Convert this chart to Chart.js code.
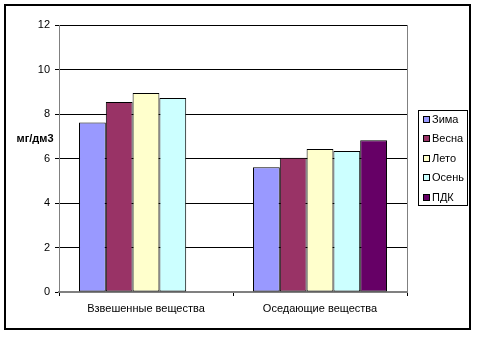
<!DOCTYPE html>
<html>
<head>
<meta charset="utf-8">
<script src="https://cdn.jsdelivr.net/npm/chart.js@4"></script>
<style>
  html, body { margin: 0; padding: 0; background: #fff; }
  #wrap { width: 478px; height: 344px; }
</style>
</head>
<body>
<div id="wrap"><canvas id="chart" width="478" height="344"></canvas></div>
<script>
const categories = ["Взвешенные вещества", "Оседающие вещества"];
const seriesNames = ["Зима", "Весна", "Лето", "Осень", "ПДК"];
const winter = [7.62, 5.61];
const spring = [8.54, 6.03];
const summer = [8.94, 6.43];
const autumn = [8.72, 6.34];
const pdk = [null, 6.82];
const seriesColors = ["#9999FF", "#993366", "#FFFFCC", "#CCFFFF", "#660066"];
const yTitle = "мг/дм3";

const FONT = "Arial, 'Liberation Sans', sans-serif";

// frame, y title, right border of plot and legend
const decor = {
  id: "decor",
  afterDraw(chart) {
    const ctx = chart.ctx;
    const a = chart.chartArea;
    ctx.save();
    // outer frame
    ctx.strokeStyle = "#000";
    ctx.lineWidth = 2;
    ctx.strokeRect(5, 5, 465, 324);
    // plot area right border
    ctx.strokeStyle = "#808080";
    ctx.lineWidth = 1;
    ctx.beginPath();
    ctx.moveTo(Math.round(a.right) + 0.5, a.top);
    ctx.lineTo(Math.round(a.right) + 0.5, a.bottom);
    ctx.stroke();
    // y axis title
    ctx.fillStyle = "#000";
    ctx.font = "bold 11px " + FONT;
    ctx.textAlign = "center";
    ctx.textBaseline = "middle";
    ctx.fillText(yTitle, 35, 139);
    // legend
    const lx = 418.5, ly = 110.5, lw = 49, lh = 95;
    ctx.fillStyle = "#fff";
    ctx.fillRect(lx, ly, lw, lh);
    ctx.strokeStyle = "#000";
    ctx.lineWidth = 1;
    ctx.strokeRect(lx, ly, lw, lh);
    ctx.font = "11px " + FONT;
    ctx.textAlign = "left";
    chart.data.datasets.forEach((ds, i) => {
      const cy = 119.5 + i * 19.5;
      ctx.fillStyle = ds.backgroundColor;
      ctx.fillRect(423.5, Math.round(cy) - 3.5, 6, 6);
      ctx.strokeRect(423.5, Math.round(cy) - 3.5, 6, 6);
      ctx.fillStyle = "#000";
      ctx.fillText(ds.label, 432, cy);
    });
    ctx.restore();
  }
};

const values = [winter, spring, summer, autumn, pdk];

new Chart(document.getElementById("chart"), {
  type: "bar",
  data: {
    labels: categories,
    datasets: seriesNames.map((name, i) => ({
      label: name,
      data: values[i],
      backgroundColor: seriesColors[i],
      borderColor: "#000",
      borderWidth: 1,
      borderSkipped: false,
      categoryPercentage: 0.77,
      barPercentage: 1.0
    }))
  },
  options: {
    responsive: false,
    animation: false,
    devicePixelRatio: 1,
    layout: { padding: { left: 0, top: 25, right: 71, bottom: 0 } },
    plugins: {
      legend: { display: false },
      tooltip: { enabled: false }
    },
    scales: {
      x: {
        offset: true,
        grid: {
          offset: true,
          drawOnChartArea: false,
          drawTicks: true,
          tickLength: 4,
          color: "#000"
        },
        border: { color: "#808080", width: 2 },
        ticks: {
          color: "#000",
          font: { family: FONT, size: 11 },
          padding: 6,
          maxRotation: 0
        },
        afterFit(scale) { scale.height = 52; }
      },
      y: {
        min: 0,
        max: 12,
        ticks: {
          stepSize: 2,
          color: "#000",
          font: { family: FONT, size: 11 },
          padding: 5
        },
        grid: {
          color: "#000",
          tickLength: 4,
          tickColor: "#000"
        },
        border: { color: "#808080", width: 1 },
        afterFit(scale) { scale.width = 59; }
      }
    }
  },
  plugins: [decor]
});
</script>
</body>
</html>
